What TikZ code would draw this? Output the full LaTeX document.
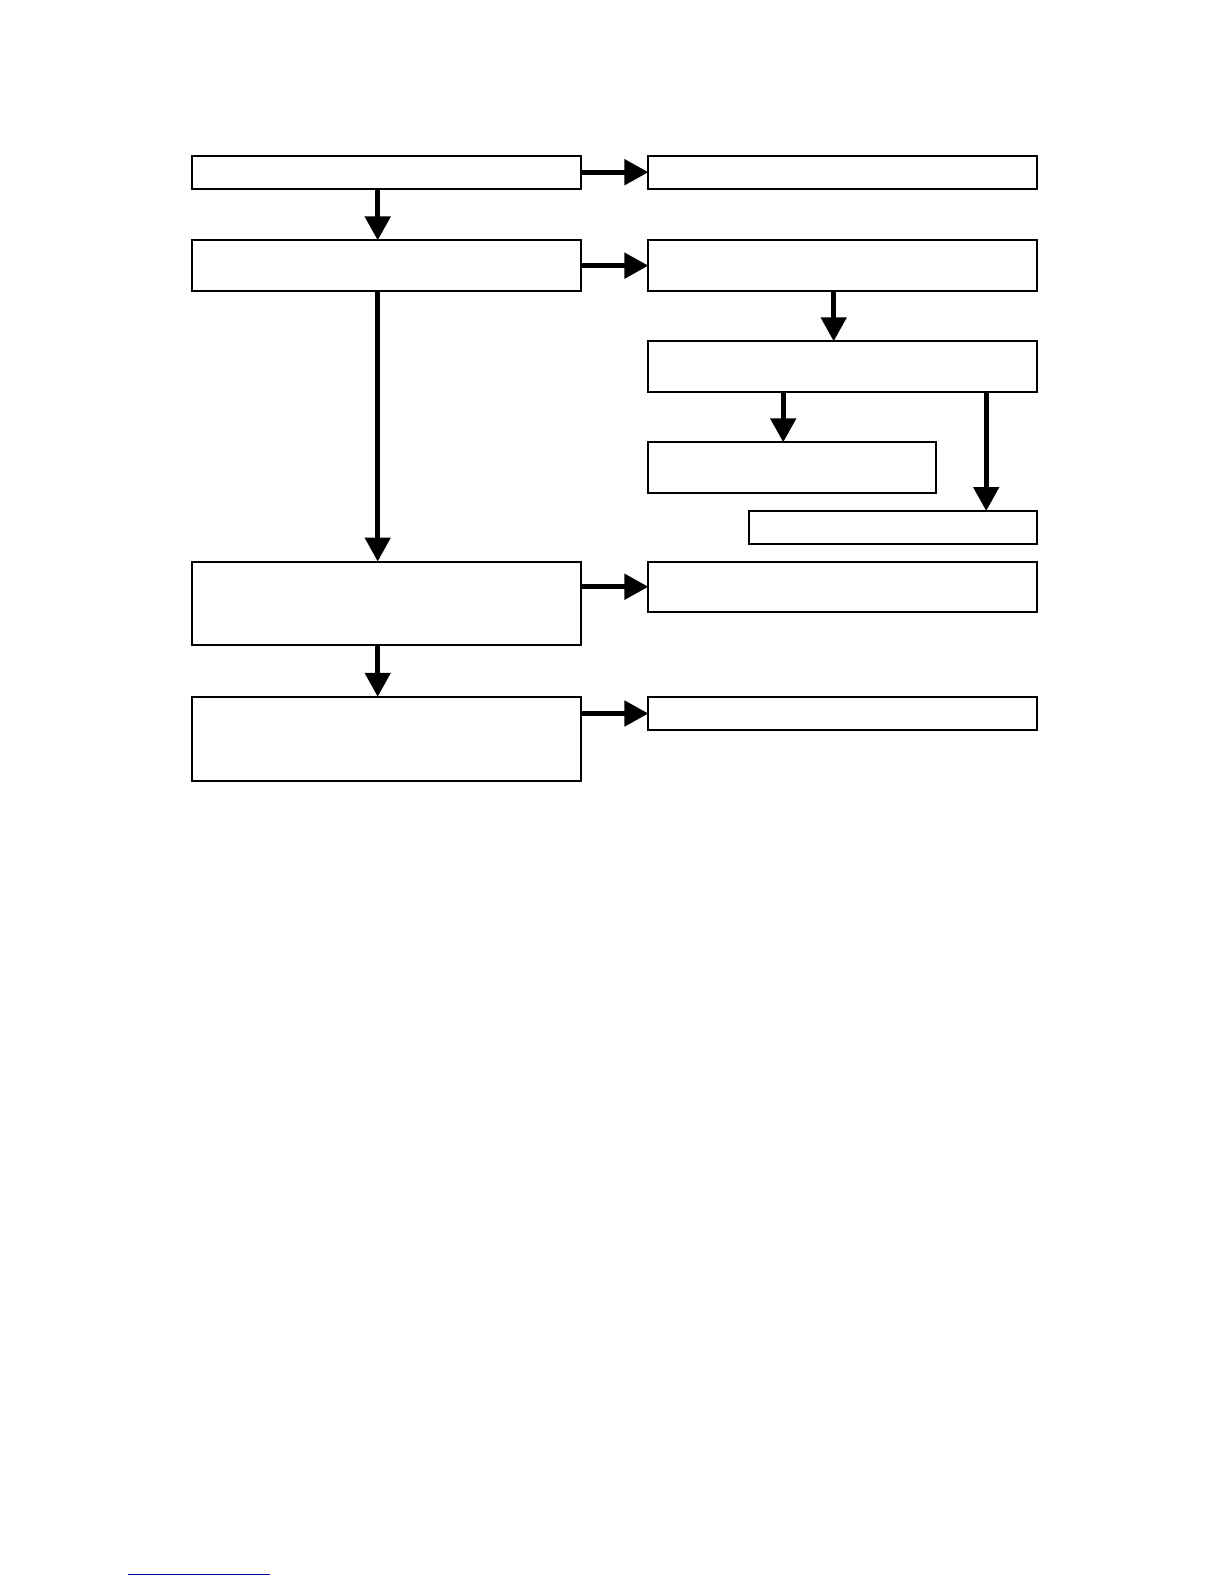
\documentclass[tikz,border=0pt]{standalone}
\usepackage{tikz}
\usetikzlibrary{arrows.meta, positioning, calc}
\tikzstyle{block} = [rectangle, minimum width=194.4pt, minimum height=25.25pt, inner sep=0pt, outer sep=0pt, draw=black, line width=1pt, fill=white]
\tikzstyle{slim} = [block, minimum height=16.7pt]
\tikzstyle{tall} = [block, minimum height=41.9pt]
\tikzstyle{short} = [block, minimum width=144pt]
\tikzstyle{arrow} = [line width=2.5pt, -{Triangle[width=12.5pt, length=12pt]}]

\begin{document}
\begin{tikzpicture}[node distance=25.75pt and 33.85pt]
      \useasboundingbox (0,0) rectangle (612pt,-792pt);

      % Row 1
      \node[slim, anchor=north west] (start) at (95.95pt,-77.75pt) {};
      \node[slim, right=of start] (startout) {};

      % Row 2
      \node[block, below=of start] (check) {};
      \node[block, right=of check] (checkout) {};

      % Right branch
      \node[block, below=25.2pt of checkout] (split) {};
      \node[short, below=25.25pt of split.south west, anchor=north west] (splitleft) {};
      \node[short, slim, minimum width=144pt, below=59.6pt of split.south east, anchor=north east] (splitright) {};

      % Row 3
      \node[tall, below=135.3pt of check] (merge) {};
      \node[block, right=of merge.north east, anchor=north west] (mergeout) {};

      % Row 4
      \node[tall, below=of merge] (finish) {};
      \node[slim, right=of finish.north east, anchor=north west] (finishout) {};

      % Arrows
      \draw[arrow] (start) -- (startout);
      \draw[arrow] ([xshift=-4.3pt]start.south) -- ([xshift=-4.3pt]start.south |- check.north);
      \draw[arrow] (check) -- (checkout);
      \draw[arrow] ([xshift=-4.3pt]check.south) -- ([xshift=-4.3pt]check.south |- merge.north);
      \draw[arrow] ([xshift=-4.55pt]checkout.south) -- ([xshift=-4.55pt]checkout.south |- split.north);
      \draw[arrow] ([xshift=-29.8pt]split.south) -- ([xshift=-29.8pt]split.south |- splitleft.north);
      \draw[arrow] ([xshift=71.7pt]split.south) -- ([xshift=71.7pt]split.south |- splitright.north);
      \draw[arrow] (merge.east |- mergeout.west) -- (mergeout.west);
      \draw[arrow] ([xshift=-4.3pt]merge.south) -- ([xshift=-4.3pt]merge.south |- finish.north);
      \draw[arrow] (finish.east |- finishout.west) -- (finishout.west);

      % Rule at the foot of the page
      \draw[blue!60!black, line width=0.7pt] (64.15pt,-787.2pt) -- (134.8pt,-787.2pt);
    \end{tikzpicture}
\end{document}
